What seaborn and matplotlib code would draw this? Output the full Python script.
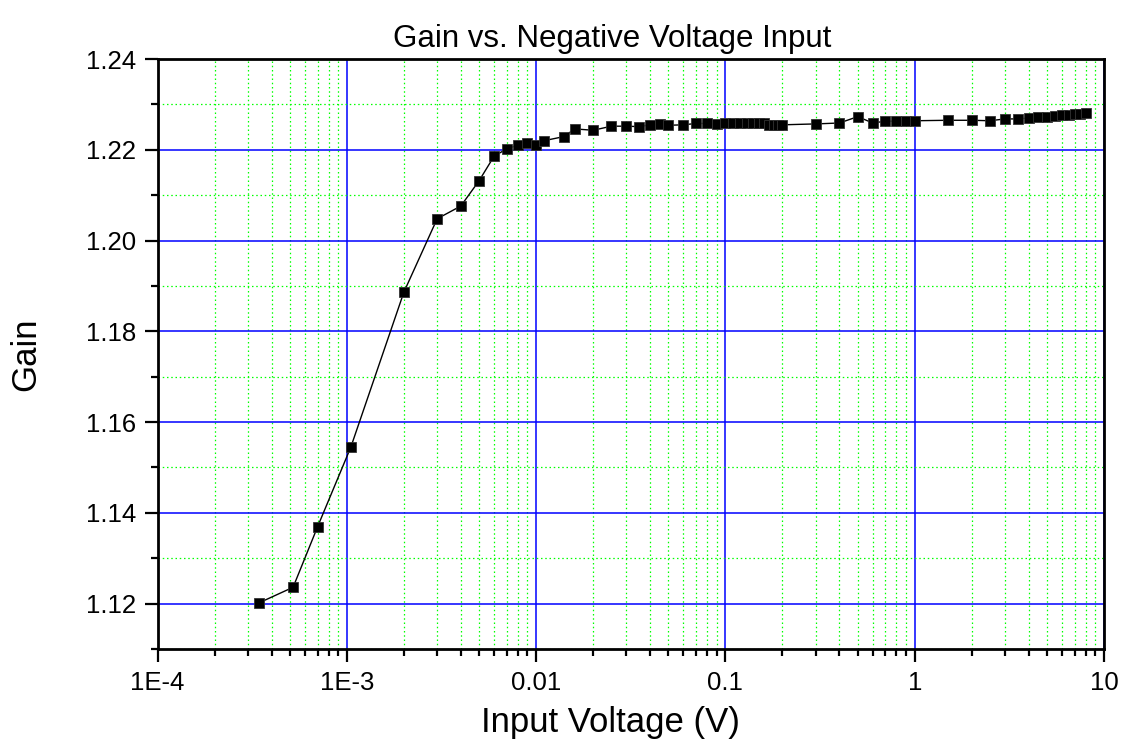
import matplotlib
matplotlib.use("Agg")
import matplotlib.pyplot as plt
from matplotlib.ticker import FixedLocator, LogLocator, MultipleLocator, NullFormatter
import numpy as np
import pandas as pd
import seaborn as sns

# Measured gain against input voltage magnitude (V)
input_voltage = [
    3.45e-4, 5.2e-4, 7.0e-4, 1.05e-3, 2.0e-3, 3.0e-3, 4.0e-3, 5.0e-3, 6.0e-3,
    7.0e-3, 8.0e-3, 9.0e-3, 0.010, 0.011, 0.014, 0.016, 0.020, 0.025, 0.030,
    0.035, 0.040, 0.045, 0.050, 0.060, 0.070, 0.080, 0.090, 0.10, 0.11, 0.12,
    0.13, 0.14, 0.15, 0.16, 0.17, 0.18, 0.19, 0.20, 0.3, 0.4, 0.5, 0.6, 0.7,
    0.8, 0.9, 1.0, 1.5, 2.0, 2.5, 3.0, 3.5, 4.0, 4.5, 5.0, 5.5, 6.0, 6.5, 7.0,
    7.5, 8.0,
]
gain = [
    1.1202, 1.1236, 1.1369, 1.1545, 1.1886, 1.2048, 1.2076, 1.2132, 1.2186,
    1.2202, 1.2210, 1.2214, 1.2210, 1.2220, 1.2229, 1.2246, 1.2243, 1.2252, 1.2252,
    1.2251, 1.2255, 1.2257, 1.2254, 1.2255, 1.2258, 1.2258, 1.2257, 1.2258, 1.2259, 1.2259,
    1.2260, 1.2259, 1.2260, 1.2259, 1.2255, 1.2254, 1.2255, 1.2255, 1.2257, 1.2259, 1.2273, 1.2259, 1.2263,
    1.2263, 1.2263, 1.2264, 1.2265, 1.2265, 1.2264, 1.2268, 1.2268, 1.2270, 1.2272, 1.2273, 1.2274, 1.2276, 1.2277, 1.2278,
    1.2279, 1.2281,
]

x_major = [1e-4, 1e-3, 1e-2, 1e-1, 1, 10]
x_major_labels = ["1E-4", "1E-3", "0.01", "0.1", "1", "10"]
y_major = [1.12, 1.14, 1.16, 1.18, 1.20, 1.22, 1.24]
y_major_labels = ["1.12", "1.14", "1.16", "1.18", "1.20", "1.22", "1.24"]

df = pd.DataFrame({"Input Voltage (V)": input_voltage, "Gain": gain})

sns.set_style("white")
plt.rcParams["font.family"] = ["Liberation Sans", "DejaVu Sans"]
plt.rcParams["text.color"] = "black"
plt.rcParams["axes.labelcolor"] = "black"
plt.rcParams["xtick.color"] = "black"
plt.rcParams["ytick.color"] = "black"

fig = plt.figure(figsize=(11.27, 7.47), dpi=100)
ax = fig.add_axes([0.1398, 0.1312, 0.8398, 0.7898])

ax.set_xscale("log")
ax.set_xlim(1e-4, 10)
ax.set_ylim(1.11, 1.24)

# Grid: blue solid majors, green dotted minors
ax.xaxis.set_major_locator(FixedLocator(x_major))
ax.xaxis.set_minor_locator(LogLocator(base=10, subs=np.arange(2, 10)))
ax.xaxis.set_minor_formatter(NullFormatter())
ax.yaxis.set_major_locator(FixedLocator(y_major))
ax.yaxis.set_minor_locator(MultipleLocator(0.01))
ax.set_xticklabels(x_major_labels)
ax.set_yticklabels(y_major_labels)

ax.grid(which="major", color="#0000FF", linestyle="-", linewidth=1.1, zorder=0)
ax.grid(which="minor", color="#00FF00", linestyle=(0, (1.2, 2.2)), linewidth=0.9, zorder=0)
ax.set_axisbelow(True)

sns.lineplot(
    data=df, x="Input Voltage (V)", y="Gain", ax=ax, sort=False, estimator=None,
    color="black", linewidth=1.0, marker="s", markersize=7,
    markerfacecolor="black", markeredgecolor="#333333", markeredgewidth=0.6,
    zorder=3,
)

for side in ["left", "right", "top", "bottom"]:
    ax.spines[side].set_visible(True)
    ax.spines[side].set_color("black")
    ax.spines[side].set_linewidth(2.0)

ax.tick_params(axis="both", which="major", direction="out", length=9.5, width=1.6,
               labelsize=18.5, color="black", pad=6, top=False, right=False,
               bottom=True, left=True)
ax.tick_params(axis="both", which="minor", direction="out", length=5, width=1.6,
               color="black", top=False, right=False, bottom=True, left=True)

ax.set_title("Gain vs. Negative Voltage Input", fontsize=22.5, pad=9, x=0.48)
ax.set_xlabel("Input Voltage (V)", fontsize=25, labelpad=8)
ax.xaxis.label.set_x(0.479)
ax.set_ylabel("Gain", fontsize=25, labelpad=31)

fig.savefig("out.png", dpi=100)
